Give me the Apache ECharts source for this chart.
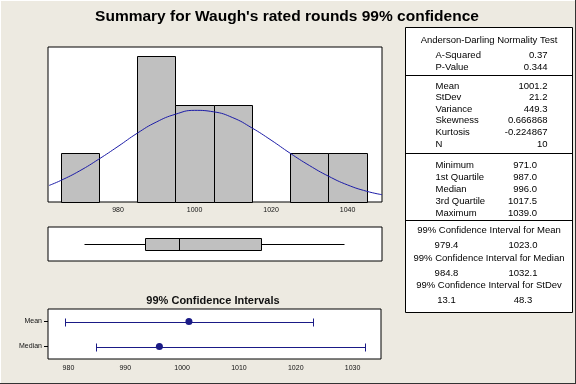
<!DOCTYPE html>
<html><head><meta charset="utf-8">
<script src="https://cdn.jsdelivr.net/npm/echarts@6/dist/echarts.min.js"></script>
<style>html,body{margin:0;padding:0;background:#EDEAE1}#c{width:576px;height:384px}</style>
</head><body><div id="c"></div>
<script>
// ---- data ----
const titleText = "Summary for Waugh's rated rounds 99% confidence";
const binStarts = [965, 985, 995, 1005, 1025, 1035];
const binEnds = [975, 995, 1005, 1015, 1035, 1045];
const binCounts = [1, 3, 2, 2, 1, 1];
const curveX = [962, 965, 970, 975, 980, 985, 990, 995, 1000, 1005, 1010, 1015, 1020, 1025, 1030, 1035, 1040, 1045, 1049];
const curveY = [0.34, 0.44, 0.64, 0.88, 1.14, 1.41, 1.64, 1.80, 1.88, 1.85, 1.73, 1.52, 1.27, 1.00, 0.75, 0.53, 0.35, 0.22, 0.15];
const histTicks = [980, 1000, 1020, 1040];
const boxStats = [971.0, 987.0, 996.0, 1017.5, 1039.0];
const ciNames = ['Mean', 'Median'];
const ciLow = [979.4, 984.8];
const ciHigh = [1023.0, 1032.1];
const ciCenter = [1001.2, 996.0];
const ciTicks = [980, 990, 1000, 1010, 1020, 1030];
const ciTitle = '99% Confidence Intervals';
const adHead = 'Anderson-Darling Normality Test';
const adLabels = ['A-Squared', 'P-Value'];
const adValues = ['0.37', '0.344'];
const momentLabels = ['Mean', 'StDev', 'Variance', 'Skewness', 'Kurtosis', 'N'];
const momentValues = ['1001.2', '21.2', '449.3', '0.666868', '-0.224867', '10'];
const quantLabels = ['Minimum', '1st Quartile', 'Median', '3rd Quartile', 'Maximum'];
const quantValues = ['971.0', '987.0', '996.0', '1017.5', '1039.0'];
const ciTableHeads = ['99% Confidence Interval for Mean', '99% Confidence Interval for Median', '99% Confidence Interval for StDev'];
const ciTableLow = ['979.4', '984.8', '13.1'];
const ciTableHigh = ['1023.0', '1032.1', '48.3'];

// ---- chart ----
const FONT = '"Liberation Sans", Arial, sans-serif';
const TS = 9.5;
const chart = echarts.init(document.getElementById('c'), null, {renderer: 'canvas'});
const crisp = v => Math.round(v) + 0.5;

function txt(x, y, text, align, opts) {
  return Object.assign({
    type: 'text', x: x, y: y, silent: true,
    style: {text: text, fontSize: TS, fontFamily: FONT, fill: '#000', align: align || 'left', verticalAlign: 'middle'}
  }, opts || {});
}
function hline(x1, x2, y, color) {
  return {type: 'line', silent: true, shape: {x1: x1, y1: y, x2: x2, y2: y}, style: {stroke: color || '#000', lineWidth: 1}};
}

const TL = 405.5, TR = 572.5, TT = 27.5, TB = 312.5;
const labX = 435.5, valX1 = 547.5, valX2 = 537;
const graphics = [];
// outer frame
graphics.push({type: 'line', silent: true, shape: {x1: 0, y1: 0.5, x2: 576, y2: 0.5}, style: {stroke: '#fff', lineWidth: 1}});
graphics.push({type: 'line', silent: true, shape: {x1: 0.5, y1: 0, x2: 0.5, y2: 384}, style: {stroke: '#fff', lineWidth: 1}});
graphics.push({type: 'line', silent: true, shape: {x1: 0, y1: 383.5, x2: 576, y2: 383.5}, style: {stroke: '#333', lineWidth: 1}});
graphics.push({type: 'line', silent: true, shape: {x1: 575.5, y1: 0, x2: 575.5, y2: 384}, style: {stroke: '#333', lineWidth: 1}});
// titles
graphics.push(txt(287, 17, titleText, 'center', {style: {text: titleText, fontSize: 15.5, fontWeight: 'bold', fontFamily: FONT, fill: '#000', align: 'center', verticalAlign: 'middle'}}));
graphics.push(txt(213, 300.5, ciTitle, 'center', {style: {text: ciTitle, fontSize: 11, fontWeight: 'bold', fontFamily: FONT, fill: '#111', align: 'center', verticalAlign: 'middle'}}));
// table
graphics.push({type: 'rect', silent: true, shape: {x: TL, y: TT, width: TR - TL, height: TB - TT}, style: {fill: '#fff', stroke: '#000', lineWidth: 1}});
graphics.push(hline(TL, TR, 75.5));
graphics.push(hline(TL, TR, 153.5));
graphics.push(hline(TL, TR, 220.5));
const mid = 489;
graphics.push(txt(mid, 40.5, adHead, 'center'));
adLabels.forEach((l, i) => { graphics.push(txt(labX, 55.3 + 12.4 * i, l)); graphics.push(txt(valX1, 55.3 + 12.4 * i, adValues[i], 'right')); });
momentLabels.forEach((l, i) => { graphics.push(txt(labX, 86 + 11.6 * i, l)); graphics.push(txt(valX1, 86 + 11.6 * i, momentValues[i], 'right')); });
quantLabels.forEach((l, i) => { graphics.push(txt(labX, 165 + 12 * i, l)); graphics.push(txt(valX2, 165 + 12 * i, quantValues[i], 'right')); });
ciTableHeads.forEach((h, i) => {
  const y0 = 230.3 + 27.7 * i;
  graphics.push(txt(mid, y0, h, 'center'));
  graphics.push(txt(446.5, y0 + 15, ciTableLow[i], 'center'));
  graphics.push(txt(523, y0 + 15, ciTableHigh[i], 'center'));
});

const navy = '#1a1a86';
const plainNum = v => String(v);
const axisLabelStyle = {fontSize: 7, fontFamily: FONT, color: '#111', formatter: plainNum};

const option = {
  backgroundColor: '#EDEAE1',
  animation: false,
  grid: [
    {left: 48, top: 47, width: 334, height: 155, show: true, backgroundColor: '#fff', borderColor: '#000', borderWidth: 1},
    {left: 48, top: 227, width: 334, height: 34, show: true, backgroundColor: '#fff', borderColor: '#000', borderWidth: 1},
    {left: 48, top: 309, width: 333, height: 50, show: true, backgroundColor: '#fff', borderColor: '#000', borderWidth: 1}
  ],
  xAxis: [
    {gridIndex: 0, type: 'value', min: 961.7, max: 1049, axisLine: {show: false}, splitLine: {show: false},
     axisTick: {show: false},
     axisLabel: Object.assign({customValues: histTicks, margin: 5}, axisLabelStyle)},
    {gridIndex: 1, type: 'value', min: 961.7, max: 1049, show: false, splitLine: {show: false}},
    {gridIndex: 2, type: 'value', min: 976.4, max: 1035, axisLine: {show: false}, splitLine: {show: false},
     axisTick: {customValues: ciTicks, length: 3, lineStyle: {color: '#000'}},
     axisLabel: Object.assign({customValues: ciTicks, margin: 6}, axisLabelStyle)}
  ],
  yAxis: [
    {gridIndex: 0, type: 'value', min: 0, max: 3.18, show: false, splitLine: {show: false}},
    {gridIndex: 1, type: 'value', min: 0, max: 1, show: false, splitLine: {show: false}},
    {gridIndex: 2, type: 'category', data: ciNames, inverse: true, axisLine: {show: false},
     axisTick: {show: true, length: 4, lineStyle: {color: '#000'}, alignWithLabel: true},
     axisLabel: {margin: 6, fontSize: 7, fontFamily: FONT, color: '#111'}}
  ],
  series: [
    {
      type: 'custom', xAxisIndex: 0, yAxisIndex: 0,
      data: binStarts.map((s, i) => [s, binEnds[i], binCounts[i]]),
      encode: {x: [0, 1], y: 2},
      renderItem: function (params, api) {
        const a = api.coord([api.value(0), 0]);
        const b = api.coord([api.value(1), api.value(2)]);
        const x0 = crisp(a[0]), x1 = crisp(b[0]), y0 = crisp(a[1]), y1 = crisp(b[1]);
        return {type: 'rect', shape: {x: x0, y: y1, width: x1 - x0, height: y0 - y1},
                style: {fill: '#C0C0C0', stroke: '#000', lineWidth: 1}};
      }
    },
    {
      type: 'line', xAxisIndex: 0, yAxisIndex: 0, smooth: true, showSymbol: false, symbol: 'none', clip: true,
      data: curveX.map((x, i) => [x, curveY[i]]),
      lineStyle: {color: '#1c1ca8', width: 1}, z: 5
    },
    {
      type: 'custom', xAxisIndex: 1, yAxisIndex: 1,
      data: [boxStats],
      encode: {x: [0, 1, 2, 3, 4]},
      renderItem: function (params, api) {
        const yc = api.coord([api.value(0), 0.5])[1] - 0.5;
        const px = k => crisp(api.coord([api.value(k), 0.5])[0]);
        const mn = px(0), q1 = px(1), md = px(2), q3 = px(3), mx = px(4);
        const yy = crisp(yc);
        return {type: 'group', children: [
          {type: 'line', shape: {x1: mn, y1: yy, x2: mx, y2: yy}, style: {stroke: '#000', lineWidth: 1}},
          {type: 'rect', shape: {x: q1, y: yy - 6, width: q3 - q1, height: 12}, style: {fill: '#C0C0C0', stroke: '#000', lineWidth: 1}},
          {type: 'line', shape: {x1: md, y1: yy - 6, x2: md, y2: yy + 6}, style: {stroke: '#000', lineWidth: 1}}
        ]};
      }
    },
    {
      type: 'custom', xAxisIndex: 2, yAxisIndex: 2,
      data: ciNames.map((n, i) => [i, ciLow[i], ciHigh[i]]),
      encode: {x: [1, 2], y: 0},
      renderItem: function (params, api) {
        const a = api.coord([api.value(1), api.value(0)]);
        const b = api.coord([api.value(2), api.value(0)]);
        const y = crisp(a[1]), x0 = crisp(a[0]), x1 = crisp(b[0]);
        return {type: 'group', children: [
          {type: 'line', shape: {x1: x0, y1: y, x2: x1, y2: y}, style: {stroke: navy, lineWidth: 1}},
          {type: 'line', shape: {x1: x0, y1: y - 4, x2: x0, y2: y + 4}, style: {stroke: navy, lineWidth: 1}},
          {type: 'line', shape: {x1: x1, y1: y - 4, x2: x1, y2: y + 4}, style: {stroke: navy, lineWidth: 1}}
        ]};
      }
    },
    {
      type: 'scatter', xAxisIndex: 2, yAxisIndex: 2, symbol: 'circle', symbolSize: 7,
      data: ciCenter.map((c, i) => [c, i]),
      itemStyle: {color: navy, opacity: 1}, z: 5
    }
  ],
  graphic: graphics
};
chart.setOption(option);
</script>
</body></html>
